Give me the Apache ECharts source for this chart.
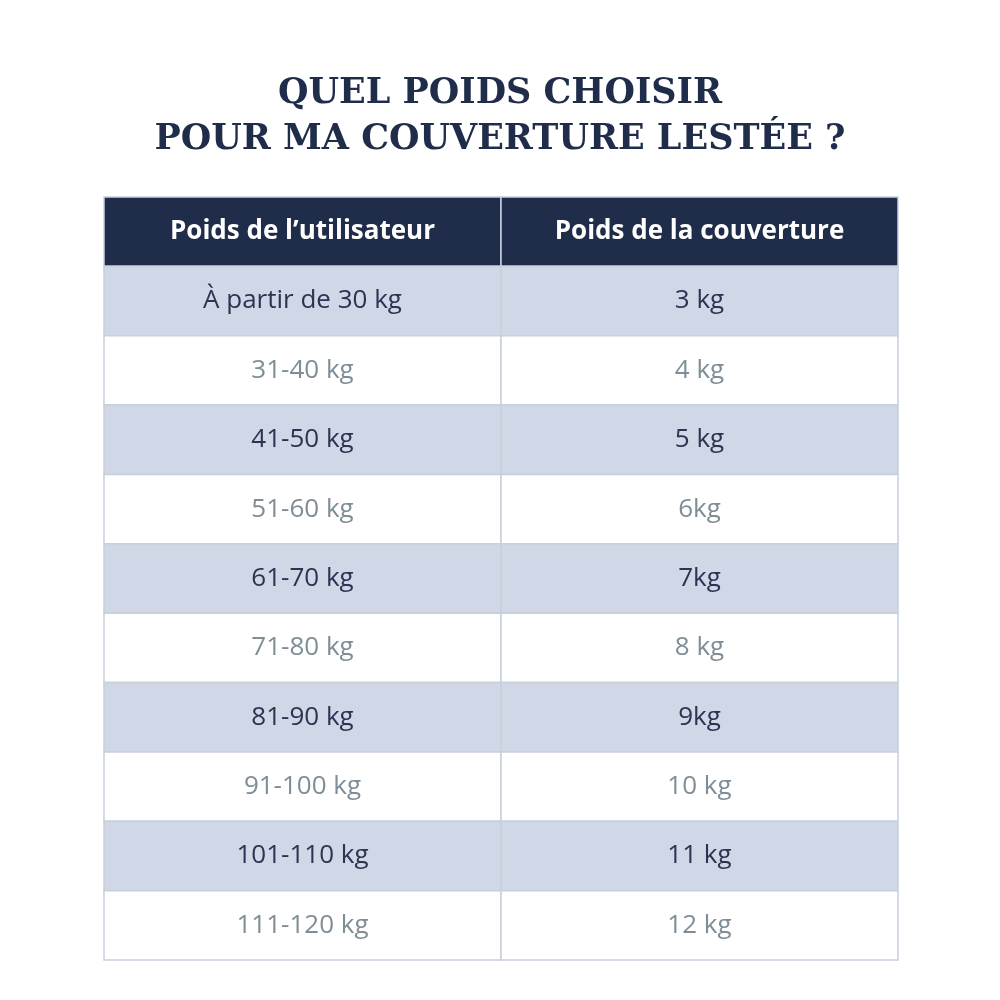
<!DOCTYPE html>
<html><head><meta charset="utf-8">
<script src="https://cdn.jsdelivr.net/npm/echarts@6/dist/echarts.min.js"></script>
<style>html,body{margin:0;padding:0;background:#fff}#c{width:1000px;height:1000px}</style>
</head><body><div id="c"></div>
<script>
const headers = ["Poids de l’utilisateur", "Poids de la couverture"];
const userWeights = ["À partir de 30 kg","31-40 kg","41-50 kg","51-60 kg","61-70 kg","71-80 kg","81-90 kg","91-100 kg","101-110 kg","111-120 kg"];
const blanketWeights = ["3 kg","4 kg","5 kg","6kg","7kg","8 kg","9kg","10 kg","11 kg","12 kg"];

const rows = ["h"].concat(userWeights.map((_, i) => "r" + i));
const cells = [];
const texts = [];
for (let r = 0; r < rows.length; r++) {
  for (let c = 0; c < 2; c++) {
    cells.push([c, r]);
    texts.push(r === 0 ? headers[c] : (c === 0 ? userWeights[r - 1] : blanketWeights[r - 1]));
  }
}
const chart = echarts.init(document.getElementById('c'));
chart.setOption({
  backgroundColor: '#ffffff',
  title: {
    text: 'QUEL POIDS CHOISIR\nPOUR MA COUVERTURE LESTÉE ?',
    left: 'center', top: 66,
    textStyle: { fontFamily: 'DejaVu Serif', fontWeight: 'bold', fontSize: 35, color: '#1f2d4a', lineHeight: 46 }
  },
  grid: { left: 104, right: 102, top: 197, bottom: 40 },
  xAxis: { type: 'category', data: ['a', 'b'], show: false },
  yAxis: { type: 'category', data: rows, inverse: true, show: false },
  series: [{
    type: 'custom',
    data: cells,
    renderItem: function (params, api) {
      const c = api.value(0), r = api.value(1);
      const p = api.coord([c, r]);
      const s = api.size([1, 1]);
      const header = r === 0;
      const shaded = r % 2 === 1;
      const fill = header ? '#1f2d4a' : (shaded ? '#d0d7e6' : '#ffffff');
      const tcol = header ? '#ffffff' : (shaded ? '#2a3553' : '#7f8e96');
      return {
        type: 'group',
        children: [
          { type: 'rect', shape: { x: p[0] - s[0] / 2, y: p[1] - s[1] / 2, width: s[0], height: s[1] },
            style: { fill: fill, stroke: header ? '#c8d0dc' : '#c8d0dc', lineWidth: 1.5 } },
          { type: 'text', style: { text: texts[params.dataIndex], x: p[0], y: p[1],
            align: 'center', verticalAlign: 'middle', fill: tcol,
            font: (header ? 'bold ' : '') + '26px "Open Sans"' } }
        ]
      };
    }
  }]
});
</script></body></html>
